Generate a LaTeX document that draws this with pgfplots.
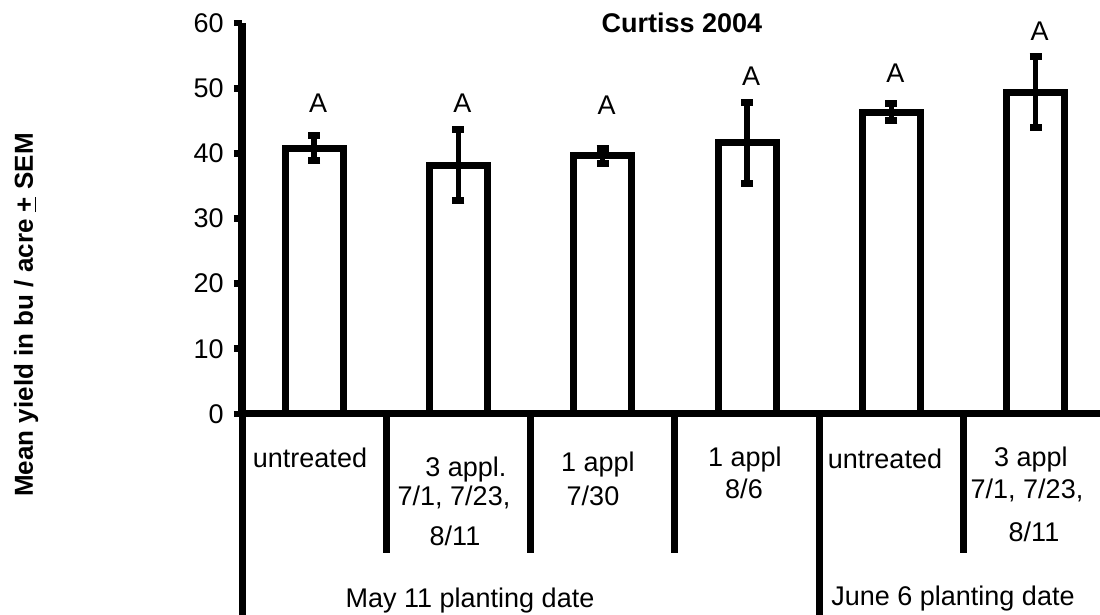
\documentclass[border=0pt]{standalone}
\usepackage{fontspec}
\setmainfont{Liberation Sans}
\usepackage{pgfplots}
\pgfplotsset{compat=1.18}
\begin{document}
\begin{tikzpicture}[font=\fontsize{13.5pt}{16pt}\selectfont]
\useasboundingbox (0,0) rectangle (550pt,307.5pt);
\begin{axis}[
  at={(121pt,100.5pt)}, anchor=south west,
  scale only axis, width=429pt, height=195.5pt,
  xmin=-0.5, xmax=5.446, ymin=0, ymax=60,
  axis x line=bottom, axis y line=left,
  axis line style={-, line width=3.5pt, black},
  xtick=\empty, ytick={0,10,...,60},
  tick align=outside, major tick length=4pt,
  ytick style={line width=3.4pt, black},
  yticklabel style={inner sep=0pt, xshift=-5pt, font=\fontsize{13.5pt}{16pt}\selectfont},
  /pgf/number format/assume math mode=true,
  clip=false,
]
\addplot[ybar, bar width=29pt, bar shift=0pt, draw=black, fill=white, line width=3.5pt,
  error bars/.cd, y dir=both, y explicit,
  error bar style={line width=2.75pt, black},
  error mark options={rotate=90, line width=3.5pt, mark size=3pt, black}]
  coordinates {
  (0,40.8) +- (0,1.9)
  (1,38.2) +- (0,5.4)
  (2,39.6) +- (0,1.2)
  (3,41.6) +- (0,6.2)
  (4,46.3) +- (0,1.3)
  (5,49.4) +- (0,5.4)
  };
\addplot[draw=none, mark=none, nodes near coords, point meta=explicit symbolic,
  nodes near coords style={anchor=center, xshift=2pt, inner sep=0pt, font=\fontsize{13.5pt}{16pt}\selectfont}]
  table[meta=label] {
  x y label
  0 47.7 A
  1 47.7 A
  2 47.4 A
  3 51.9 A
  4 52.3 A
  5 58.8 A
  };
\end{axis}
\begin{scope}[line width=3.5pt]
\draw (121pt,100.5pt) -- (121pt,0pt);
\draw (409.6pt,100.5pt) -- (409.6pt,0pt);
\draw (193.15pt,100.5pt) -- (193.15pt,31pt);
\draw (265.3pt,100.5pt) -- (265.3pt,31pt);
\draw (337.45pt,100.5pt) -- (337.45pt,31pt);
\draw (481.75pt,100.5pt) -- (481.75pt,31pt);
\end{scope}
\begin{scope}[every node/.style={inner sep=0pt, anchor=base}]
\node at (155pt,73.5pt) {untreated};
\node at (233pt,69pt) {3 appl.};
\node at (227pt,54.5pt) {7/1, 7/23,};
\node at (227.5pt,34.5pt) {8/11};
\node at (299pt,71.5pt) {1 appl};
\node at (296.5pt,54.5pt) {7/30};
\node at (372.5pt,74pt) {1 appl};
\node at (372pt,58pt) {8/6};
\node at (442.5pt,73pt) {untreated};
\node at (515.5pt,74pt) {3 appl};
\node at (513.5pt,58pt) {7/1, 7/23,};
\node at (517pt,36.5pt) {8/11};
\node at (235pt,3.5pt) {May 11 planting date};
\node at (476.5pt,4.5pt) {June 6 planting date};
\node[font=\fontsize{13.5pt}{16pt}\selectfont\bfseries] at (341pt,291.25pt) {Curtiss 2004};
\node[rotate=90, font=\fontsize{13pt}{16pt}\selectfont\bfseries] at (16.5pt,150pt) {Mean yield in bu / acre \underline{+} SEM};
\end{scope}
\end{tikzpicture}
\end{document}
